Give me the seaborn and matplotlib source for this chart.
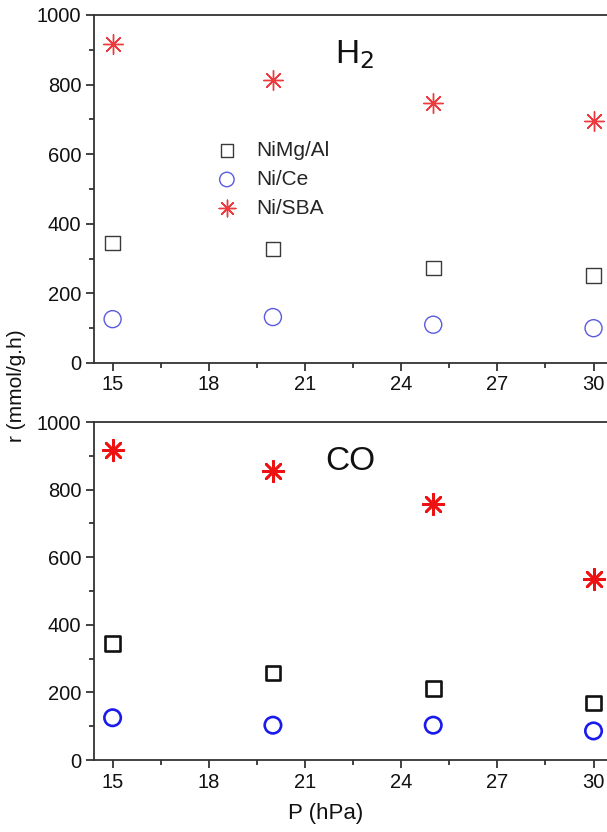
import matplotlib
matplotlib.use("Agg")
import matplotlib.pyplot as plt
import seaborn as sns
import pandas as pd
from matplotlib.ticker import MultipleLocator, AutoMinorLocator

sns.set_theme(style="ticks")
plt.rcParams['font.family'] = ['Liberation Sans', 'DejaVu Sans']

pressure = [15, 20, 25, 30]
catalysts = ["NiMg/Al", "Ni/Ce", "Ni/SBA"]
h2_nimgal = [345, 328, 273, 251]
h2_nice = [126, 132, 110, 100]
h2_nisba = [917, 813, 747, 695]
co_nimgal = [344, 258, 212, 168]
co_nice = [125, 103, 103, 86]
co_nisba = [916, 854, 758, 535]

def frame(a, b, c):
    rows = []
    for cat, vals in zip(catalysts, [a, b, c]):
        for p, v in zip(pressure, vals):
            rows.append({"P": p, "r": v, "cat": cat})
    return pd.DataFrame(rows)

df_h2 = frame(h2_nimgal, h2_nice, h2_nisba)
df_co = frame(co_nimgal, co_nice, co_nisba)

W, H = 607, 832
fig = plt.figure(figsize=(W / 100, H / 100), dpi=100)
left = 94 / W
ax1 = fig.add_axes([left, 1 - 363 / H, 1 - left, (363 - 15) / H])
ax2 = fig.add_axes([left, 1 - 760 / H, 1 - left, (760 - 422) / H])

markers = {"NiMg/Al": "s", "Ni/Ce": "o", "Ni/SBA": (8, 2, 0)}

def draw(ax, df, colors, lw, sizes):
    for cat in catalysts:
        sub = df[df["cat"] == cat]
        sns.scatterplot(data=sub, x="P", y="r", ax=ax, marker=markers[cat],
                        s=sizes[cat], facecolor="none" if cat != "Ni/SBA" else colors[cat],
                        edgecolor=colors[cat], color=colors[cat],
                        linewidth=lw, label=cat, zorder=3)
    ax.set_xlim(14.42, 30.42)
    ax.set_ylim(0, 1000)
    ax.xaxis.set_major_locator(MultipleLocator(3))
    ax.xaxis.set_minor_locator(AutoMinorLocator(2))
    ax.yaxis.set_major_locator(MultipleLocator(200))
    ax.yaxis.set_minor_locator(AutoMinorLocator(2))
    ax.tick_params(axis="both", which="major", direction="out", length=6, width=1.2,
                   labelsize=14.5, color="#222222", labelcolor="#111111", pad=3)
    ax.tick_params(axis="both", which="minor", direction="out", length=3.5, width=1.2,
                   color="#222222")
    for side in ["left", "bottom", "top"]:
        ax.spines[side].set_color("#333333")
        ax.spines[side].set_linewidth(1.3)
    ax.spines["right"].set_visible(False)
    ax.set_xlabel("")
    ax.set_ylabel("")

colors_top = {"NiMg/Al": "#3a3a3a", "Ni/Ce": "#5a5ae0", "Ni/SBA": "#ec3a3e"}
colors_bot = {"NiMg/Al": "#111111", "Ni/Ce": "#1a1aee", "Ni/SBA": "#ee1111"}
draw(ax1, df_h2, colors_top, 1.0, {"NiMg/Al": 110, "Ni/Ce": 150, "Ni/SBA": 200})
draw(ax2, df_co, colors_bot, 1.9, {"NiMg/Al": 110, "Ni/Ce": 140, "Ni/SBA": 220})

ax1.set_xticks([15, 18, 21, 24, 27, 30])
ax2.set_xticks([15, 18, 21, 24, 27, 30])

ax1.text(22.55, 885, "H$_2$", fontsize=24, ha="center", va="center", color="#111111")
ax2.text(22.4, 882, "CO", fontsize=24, ha="center", va="center", color="#111111")

leg = ax1.legend(loc="upper left", bbox_to_anchor=(0.19, 0.68), frameon=False,
                 fontsize=15, handletextpad=0.4, labelspacing=0.48, borderpad=0.2,
                 markerscale=0.85)
if ax2.legend_:
    ax2.legend_.remove()

fig.text(0.028, 1 - 386 / H, "r (mmol/g.h)", rotation=90, ha="center", va="center",
         fontsize=15, color="#111111")
fig.text(326 / W, 1 - 814 / H, "P (hPa)", ha="center", va="center",
         fontsize=16, color="#111111")

fig.savefig("out.png", dpi=100)
